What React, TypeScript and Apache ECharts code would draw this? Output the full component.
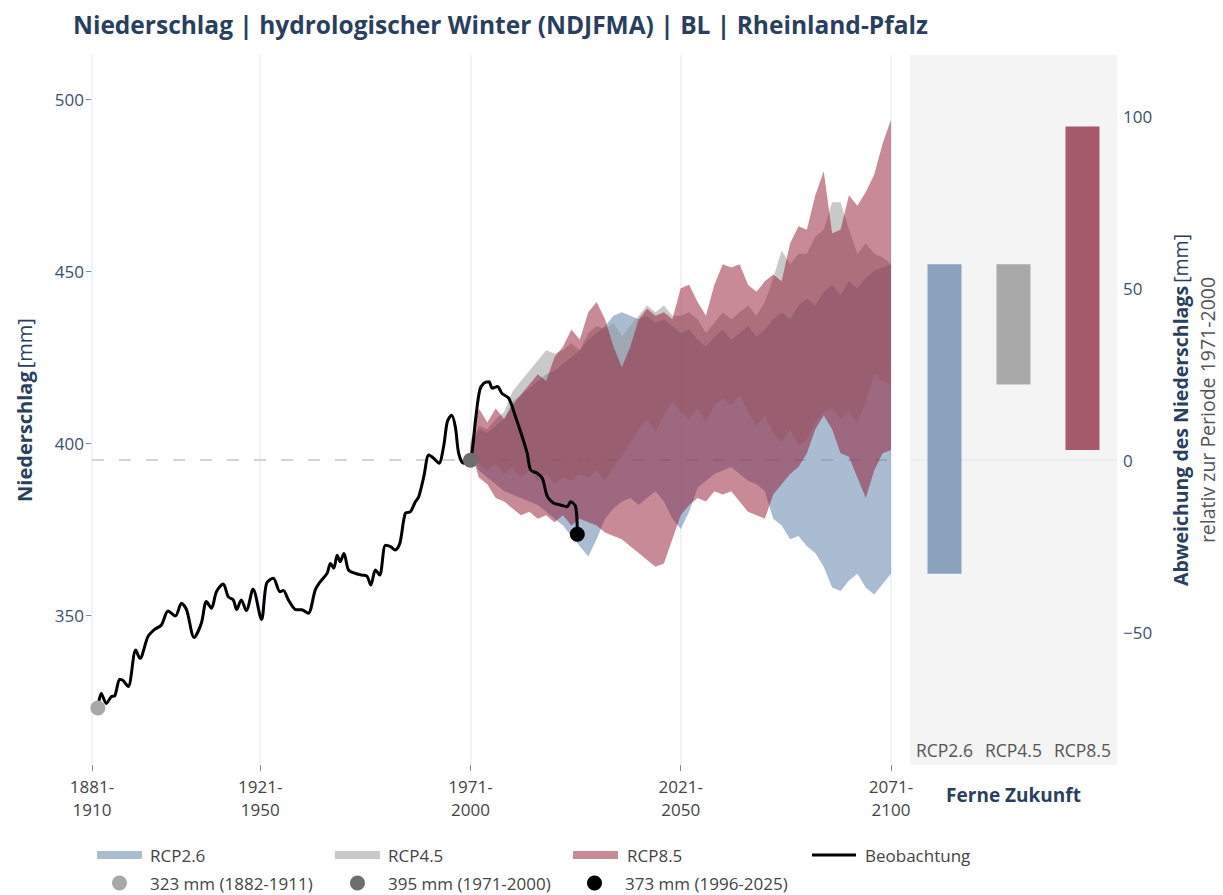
import React, { useEffect, useRef } from "react";
import * as echarts from "echarts";

const FONT = '"Open Sans", "Liberation Sans", Arial, sans-serif';

// ---------- data ----------
const titleText = "Niederschlag | hydrologischer Winter (NDJFMA) | BL | Rheinland-Pfalz";

const xTickYears = [1881, 1921, 1971, 2021, 2071];
const xTickLabels = ["1881-\n1910", "1921-\n1950", "1971-\n2000", "2021-\n2050", "2071-\n2100"];
const yTicks = [350, 400, 450, 500];
const devTicks = [-50, 0, 50, 100];
const baseline = 395;
const yMin = 306.4;
const yMax = 512.8;

const obsYears = [
  1882.4, 1883.2, 1884.4, 1885.6, 1886.4, 1887.6, 1888.4, 1889.6, 1891.4, 1892.4,
  1894.3, 1895.9, 1897.5, 1899.1, 1900.8, 1902.3, 1903.5, 1905.3, 1907.0, 1908.2,
  1909.4, 1910.6, 1912.2, 1913.4, 1914.6, 1915.4, 1916.5, 1917.7, 1919.3, 1921.3,
  1922.5, 1924.1, 1925.7, 1926.5, 1927.7, 1929.6, 1930.8, 1932.4, 1934.1, 1935.3,
  1936.9, 1937.7, 1938.5, 1939.3, 1940.0, 1940.9, 1942.0, 1943.6, 1945.2, 1946.4,
  1947.3, 1948.4, 1949.4, 1950.8, 1952.0, 1953.1, 1954.2, 1955.5, 1956.7, 1957.9,
  1958.7, 1959.9, 1961.1, 1962.3, 1963.5, 1964.6, 1965.5, 1966.5, 1967.4, 1968.2,
  1969.4, 1971.0, 1972.2, 1973.2, 1974.2, 1975.4, 1976.2, 1977.4, 1978.5, 1980.1,
  1981.7, 1983.3, 1984.5, 1985.3, 1986.9, 1988.1, 1989.3, 1990.8, 1992.4, 1994.0,
  1994.8, 1996.0, 1996.4,
];
const obsValues = [
  323.0, 327.2, 324.3, 326.3, 326.5, 331.3, 330.9, 329.2, 339.8, 337.4,
  343.7, 345.8, 347.1, 351.2, 349.7, 353.4, 351.5, 343.5, 347.6, 353.9,
  352.0, 356.8, 359.0, 355.3, 354.4, 351.6, 354.4, 351.3, 357.5, 348.7,
  359.2, 360.7, 356.8, 357.1, 354.4, 351.5, 351.5, 350.5, 357.3, 359.7,
  362.1, 365.0, 363.6, 367.4, 365.5, 367.9, 363.1, 362.1, 361.6, 361.3,
  358.7, 363.1, 361.6, 370.3, 369.9, 368.9, 370.8, 379.6, 380.0, 382.9,
  384.4, 390.2, 396.5, 395.5, 394.1, 398.9, 406.2, 408.1, 404.7, 397.0,
  394.1, 395.1, 406.7, 415.4, 417.4, 417.8, 415.9, 416.4, 414.4, 413.0,
  407.7, 401.8, 397.0, 392.2, 391.2, 389.7, 384.4, 382.5, 382.0, 381.5,
  382.9, 381.5, 373.8,
];

const bandYears = [
  1971, 1973, 1975, 1977, 1979, 1981, 1983, 1985, 1987, 1989,
  1991, 1993, 1995, 1997, 1999, 2001, 2003, 2005, 2007, 2009,
  2011, 2013, 2015, 2017, 2019, 2021, 2023, 2025, 2027, 2029,
  2031, 2033, 2035, 2037, 2039, 2041, 2043, 2045, 2047, 2049,
  2051, 2053, 2055, 2057, 2059, 2061, 2063, 2065, 2067, 2069,
  2071,
];
const rcp26Low = [
  397, 392, 390, 388, 386, 385, 384, 383, 382, 380,
  378, 376, 373, 370, 367, 372, 378, 381, 383, 384,
  382, 384, 386, 383, 378, 375, 380, 387, 389, 391,
  392, 393, 391, 389, 388, 386, 378, 376, 372, 373,
  370, 368, 364, 358, 357, 360, 362, 358, 356, 359,
  362,
];
const rcp26High = [
  398, 404, 403, 405, 407, 412, 414, 416, 418, 420,
  421, 423, 425, 427, 430, 432, 434, 437, 438, 437,
  436, 437, 435, 436, 434, 432, 433, 430, 428, 431,
  433, 430, 432, 434, 431, 433, 436, 438, 436, 440,
  442, 440, 444, 446, 443, 447, 445, 448, 450, 451,
  452,
];
const rcp45Low = [
  397, 394, 392, 394, 391, 393, 390, 392, 389, 391,
  388, 390, 389, 391, 390, 392, 389, 393, 396, 400,
  404, 407, 403, 408, 412, 409, 407, 410, 406, 411,
  413, 411, 414, 409, 405, 408, 403, 400, 404, 399,
  401, 406, 409, 410, 407, 409, 406, 412, 420, 418,
  417,
];
const rcp45High = [
  399, 405, 404, 407, 409, 415, 418, 421, 424, 427,
  426, 427, 429, 427, 432, 434, 433, 435, 431, 434,
  437, 440, 438, 440, 437, 437, 438, 436, 432, 435,
  438, 436, 438, 440, 437, 441, 448, 456, 452, 455,
  455, 460, 462, 470, 470, 462, 455, 458, 455, 454,
  452,
];
const rcp85Low = [
  398, 390, 388, 384, 383, 381, 379, 380, 378, 379,
  377, 379, 376, 378, 377, 376, 374, 373, 372, 370,
  368, 366, 364, 365, 372, 379, 382, 384, 383, 386,
  385, 386, 383, 380, 379, 378, 385, 388, 391, 393,
  397, 404, 408, 404, 397, 396, 390, 384, 392, 397,
  398,
];
const rcp85High = [
  400, 410, 406, 410, 407, 411, 414, 417, 420, 418,
  425, 428, 433, 430, 438, 441, 436, 428, 422, 428,
  436, 439, 437, 438, 436, 445, 446, 441, 437, 446,
  452, 451, 452, 446, 444, 447, 449, 447, 458, 463,
  462, 472, 479, 461, 462, 472, 469, 473, 478, 487,
  494,
];

const scenarioNames = ["RCP2.6", "RCP4.5", "RCP8.5"];
const farLow = [-33, 22, 3];
const farHigh = [57, 57, 97];

const refNames = ["323 mm (1882-1911)", "395 mm (1971-2000)", "373 mm (1996-2025)"];
const refYears = [1882.4, 1971, 1996.4];
const refValues = [323, 395, 373.5];

// ---------- styles ----------
const bandFill = ["rgba(83,121,163,0.5)", "rgba(147,147,147,0.5)", "rgba(147,21,47,0.5)"];
const bandLegend = ["#a9bcd1", "#c9c9c9", "#c98a97"];
const barColors = ["#8aa2bd", "#a9a9a9", "#a55a6b"];
const refColors = ["#a8a8a8", "#6e6e6e", "#000000"];
const NAVY = "#2a3f5f";

function bandSeries(name: string, low: number[], high: number[], idx: number) {
  return {
    type: "custom",
    name,
    xAxisIndex: 0,
    yAxisIndex: 0,
    z: 2,
    silent: true,
    clip: true,
    itemStyle: { color: bandLegend[idx] },
    data: bandYears.map((y, i) => [y, low[i], high[i]]),
    encode: { x: 0, y: [1, 2] },
    renderItem: (params: any, api: any) => {
      if (params.dataIndex !== 0) return null;
      const top = bandYears.map((y, i) => api.coord([y, high[i]]));
      const bot = bandYears.map((y, i) => api.coord([y, low[i]])).reverse();
      return {
        type: "polygon",
        shape: { points: top.concat(bot) },
        style: { fill: bandFill[idx], stroke: "none" },
      };
    },
  };
}

function legendItem(name: string, left: number, top: number, icon: string, w: number, h: number, color: string, pad: number) {
  return {
    left,
    top,
    padding: 0,
    selectedMode: false,
    icon,
    itemWidth: w,
    itemHeight: h,
    data: [{ name, icon, itemStyle: { color, borderWidth: 0 } }],
    textStyle: { fontFamily: FONT, fontSize: 17, color: "#444", padding: [0, 0, 0, pad], lineHeight: 20 },
  };
}

export default function App() {
  const ref = useRef<HTMLDivElement>(null);
  useEffect(() => {
    document.body.style.margin = "0";
    const chart = echarts.init(ref.current!, null, { renderer: "svg" });
    const option: any = {
      animation: false,
      backgroundColor: "#ffffff",
      textStyle: { fontFamily: FONT },
      title: {
        text: titleText,
        left: 68,
        top: 7,
        textStyle: { fontFamily: FONT, fontSize: 24.5, fontWeight: "bold", color: NAVY },
      },
      grid: [
        { left: 92, right: 332, top: 55, bottom: 130 },
        { left: 910, right: 106, top: 55, bottom: 130, show: true, backgroundColor: "#f4f4f4", borderWidth: 0 },
      ],
      xAxis: [
        {
          type: "value",
          gridIndex: 0,
          min: 1881,
          max: 2071,
          axisLine: { show: false },
          axisTick: { show: true, customValues: xTickYears, length: 6, lineStyle: { color: "#888" } },
          axisLabel: {
            customValues: xTickYears,
            formatter: (v: number) => xTickLabels[xTickYears.indexOf(Math.round(v))] ?? "",
            fontFamily: FONT,
            fontSize: 17,
            color: "#444",
            lineHeight: 23,
            margin: 10,
          },
          splitLine: { show: false },
        },
        {
          type: "category",
          gridIndex: 1,
          data: scenarioNames,
          axisLine: { show: false },
          axisTick: { show: false },
          axisLabel: {
            inside: true,
            interval: 0,
            hideOverlap: false,
            fontFamily: FONT,
            fontSize: 17.5,
            color: "#555",
            margin: 6,
          },
          name: "Ferne Zukunft",
          nameLocation: "middle",
          nameGap: 20,
          nameTextStyle: { fontFamily: FONT, fontSize: 19, fontWeight: "bold", color: NAVY },
        },
      ],
      yAxis: [
        {
          type: "value",
          gridIndex: 0,
          min: yMin,
          max: yMax,
          axisLine: { show: false },
          axisTick: { show: true, customValues: yTicks, length: 6, lineStyle: { color: "#888" } },
          axisLabel: { customValues: yTicks, fontFamily: FONT, fontSize: 17, color: "#3d4f6e", margin: 8 },
          splitLine: { show: false },
          name: "{b|Niederschlag} {n|[mm]}",
          nameLocation: "middle",
          nameGap: 58,
          nameTextStyle: {
            rich: {
              b: { fontFamily: FONT, fontSize: 20, fontWeight: "bold", color: NAVY },
              n: { fontFamily: FONT, fontSize: 20, color: NAVY },
            },
          },
        },
        {
          type: "value",
          gridIndex: 1,
          position: "right",
          min: yMin - baseline,
          max: yMax - baseline,
          axisLine: { show: false },
          axisTick: { show: false },
          axisLabel: {
            customValues: devTicks,
            formatter: (v: number) => String(v).replace("-", "\u2212"),
            fontFamily: FONT,
            fontSize: 17,
            color: "#3d4f6e",
            margin: 6,
          },
          splitLine: { show: false },
          name: "{b|Abweichung des Niederschlags} {n|[mm]}\n{g|relativ zur Periode 1971-2000}",
          nameLocation: "middle",
          nameGap: 50,
          nameTextStyle: {
            lineHeight: 27,
            rich: {
              b: { fontFamily: FONT, fontSize: 19.5, fontWeight: "bold", color: NAVY, lineHeight: 27 },
              n: { fontFamily: FONT, fontSize: 19.5, color: NAVY, lineHeight: 27 },
              g: { fontFamily: FONT, fontSize: 19.5, color: "#555", lineHeight: 27 },
            },
          },
        },
      ],
      legend: [
        legendItem(scenarioNames[0], 97, 845, "rect", 45, 8, bandLegend[0], 3),
        legendItem(scenarioNames[1], 335, 845, "rect", 45, 8, bandLegend[1], 3),
        legendItem(scenarioNames[2], 573, 845, "rect", 45, 8, bandLegend[2], 4),
        legendItem("Beobachtung", 812, 845, "rect", 44, 3, "#000", 4),
        legendItem(refNames[0], 112, 873, "circle", 15, 15, refColors[0], 18),
        legendItem(refNames[1], 350, 873, "circle", 15, 15, refColors[1], 18),
        legendItem(refNames[2], 587, 873, "circle", 15, 15, refColors[2], 18),
      ],
      series: [
        {
          type: "line",
          name: "grid-helper",
          xAxisIndex: 0,
          yAxisIndex: 0,
          z: 1,
          data: [[1881, baseline]],
          symbol: "none",
          lineStyle: { width: 0 },
          silent: true,
          markLine: {
            z: 1,
            silent: true,
            symbol: "none",
            label: { show: false },
            data: [
              ...xTickYears.map((y) => ({ xAxis: y, lineStyle: { color: "#ebf0f8", width: 1.5, type: "solid" } })),
              { yAxis: baseline, lineStyle: { color: "#d4d4d4", width: 2, type: [12, 15] } },
            ],
          },
        },
        bandSeries(scenarioNames[0], rcp26Low, rcp26High, 0),
        bandSeries(scenarioNames[1], rcp45Low, rcp45High, 1),
        bandSeries(scenarioNames[2], rcp85Low, rcp85High, 2),
        {
          type: "line",
          name: "Beobachtung",
          xAxisIndex: 0,
          yAxisIndex: 0,
          z: 4,
          data: obsYears.map((y, i) => [y, obsValues[i]]),
          symbol: "none",
          smooth: 0.3,
          itemStyle: { color: "#000" },
          lineStyle: { color: "#000", width: 3 },
          silent: true,
        },
        ...refNames.map((n, i) => ({
          type: "scatter",
          name: n,
          xAxisIndex: 0,
          yAxisIndex: 0,
          z: 5,
          symbolSize: 15,
          itemStyle: { color: refColors[i], opacity: 1 },
          data: [[refYears[i], refValues[i]]],
          silent: true,
        })),
        {
          type: "bar",
          name: "far-base",
          xAxisIndex: 1,
          yAxisIndex: 1,
          stack: "far",
          stackStrategy: "all",
          barWidth: 34,
          z: 1,
          silent: true,
          itemStyle: { color: "rgba(0,0,0,0)" },
          data: farLow,
          markLine: {
            z: 1,
            silent: true,
            symbol: "none",
            label: { show: false },
            data: [{ yAxis: 0, lineStyle: { color: "#e6ebf4", width: 1.5, type: "solid" } }],
          },
        },
        {
          type: "bar",
          name: "far-range",
          xAxisIndex: 1,
          yAxisIndex: 1,
          stack: "far",
          stackStrategy: "all",
          barWidth: 34,
          z: 2,
          silent: true,
          data: farHigh.map((h, i) => ({ value: h - farLow[i], itemStyle: { color: barColors[i] } })),
        },
      ],
    };
    chart.setOption(option);
    return () => chart.dispose();
  }, []);
  return <div ref={ref} style={{ width: 1223, height: 895 }} />;
}
